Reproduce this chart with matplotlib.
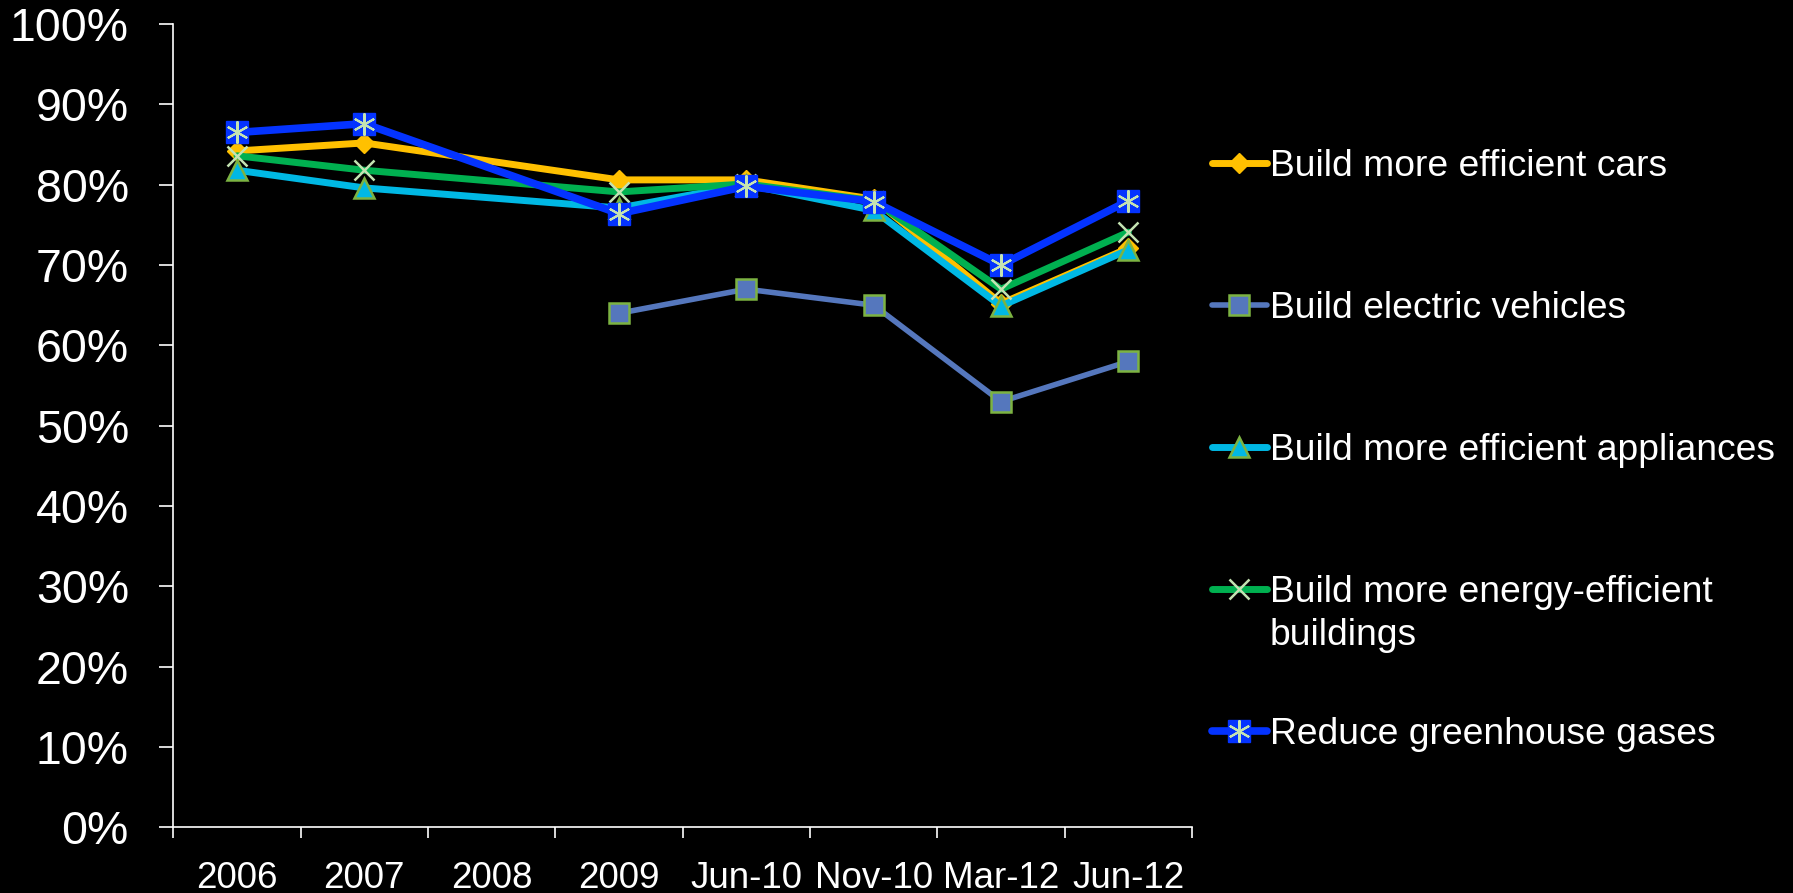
import numpy as np
import matplotlib
matplotlib.use("Agg")
import matplotlib.pyplot as plt
from matplotlib.legend_handler import HandlerTuple

plt.rcParams['font.family'] = ['Liberation Sans', 'DejaVu Sans']

# ---- data (percent) ----
categories = ["2006", "2007", "2008", "2009", "Jun-10", "Nov-10", "Mar-12", "Jun-12"]
cars = [84.2, 85.2, np.nan, 80.6, 80.6, 78.2, 65.2, 72.1]
electric = [np.nan, np.nan, np.nan, 64.0, 67.0, 65.0, 53.0, 58.0]
appliances = [81.8, 79.6, np.nan, 77.1, 80.0, 76.8, 64.9, 71.9]
buildings = [83.6, 81.8, np.nan, 79.1, 80.1, 78.0, 67.0, 74.1]
greenhouse = [86.5, 87.6, np.nan, 76.4, 79.8, 77.9, 70.0, 78.0]

labels = ["Build more efficient cars", "Build electric vehicles",
          "Build more efficient appliances", "Build more energy-efficient",
          "Reduce greenhouse gases"]

edge_green = "#7cb342"
pale_green = "#c4e3b2"

fig = plt.figure(figsize=(17.93, 8.93), dpi=100, facecolor="black")
ax = fig.add_axes([0.09666, 0.07335, 0.5682, 0.89977])
ax.set_facecolor("black")

x = np.arange(len(categories)) + 0.5


def series(y, **kw):
    y = np.asarray(y, dtype=float)
    ok = ~np.isnan(y)
    return ax.plot(x[ok], y[ok], **kw)[0]


h_cars = series(cars, color="#ffc000", lw=5, marker="D", ms=10.5,
                mfc="#ffc000", mec="#ffc000", solid_capstyle="round")
h_ev = series(electric, color="#5577bd", lw=4, marker="s", ms=14.5,
              mfc="#5577bd", mec=edge_green, mew=1.8, solid_capstyle="round")
h_app = series(appliances, color="#00b8e4", lw=5, marker="^", ms=15,
               mfc="#00b8e4", mec=edge_green, mew=1.8, solid_capstyle="round")
h_bld = series(buildings, color="#00b050", lw=5, marker="x", ms=14,
               mec=pale_green, mew=1.8, solid_capstyle="round")
h_ghg = series(greenhouse, color="#0433ff", lw=5.5, marker="s", ms=16,
               mfc="#0433ff", mec="#0433ff", solid_capstyle="round")
h_ghg2 = series(greenhouse, ls="none", marker=(6, 2, 0), ms=16,
                mec=pale_green, mew=1.5)

ax.set_xlim(0, len(categories))
ax.set_ylim(0, 100)
ax.set_yticks(np.arange(0, 101, 10))
ax.set_yticklabels([f"{v}%" for v in range(0, 101, 10)])
ax.set_xticks(np.arange(len(categories) + 1))
ax.set_xticklabels([])
ax.set_xticks(x, minor=True)
ax.set_xticklabels(categories, minor=True)

for s in ["top", "right"]:
    ax.spines[s].set_visible(False)
for s in ["left", "bottom"]:
    ax.spines[s].set_color("white")
    ax.spines[s].set_linewidth(1.2)

ax.tick_params(axis="y", colors="white", labelsize=33.5, length=10,
               width=1.2, pad=22)
ax.tick_params(axis="x", which="major", colors="white", length=8, width=1.2)
ax.tick_params(axis="x", which="minor", colors="white", length=0,
               labelsize=26.5, pad=24)

leg = ax.legend([h_cars, h_ev, h_app, h_bld, (h_ghg, h_ghg2)], labels,
                handler_map={tuple: HandlerTuple(ndivide=1)},
                loc="upper left", bbox_to_anchor=(0.676, 0.8326),
                bbox_transform=fig.transFigure, frameon=False,
                fontsize=26.8, labelcolor="white", borderpad=0,
                borderaxespad=0, labelspacing=2.87, handlelength=1.47,
                handletextpad=0.08)

# second line of the wrapped legend label
ax.annotate("buildings", xy=(0, 1), xycoords=leg.get_texts()[3],
            xytext=(0, -43.5), textcoords="offset pixels",
            ha="left", va="top", color="white", fontsize=26.8,
            annotation_clip=False, zorder=10)

fig.savefig("out.png", dpi=100, facecolor="black")
